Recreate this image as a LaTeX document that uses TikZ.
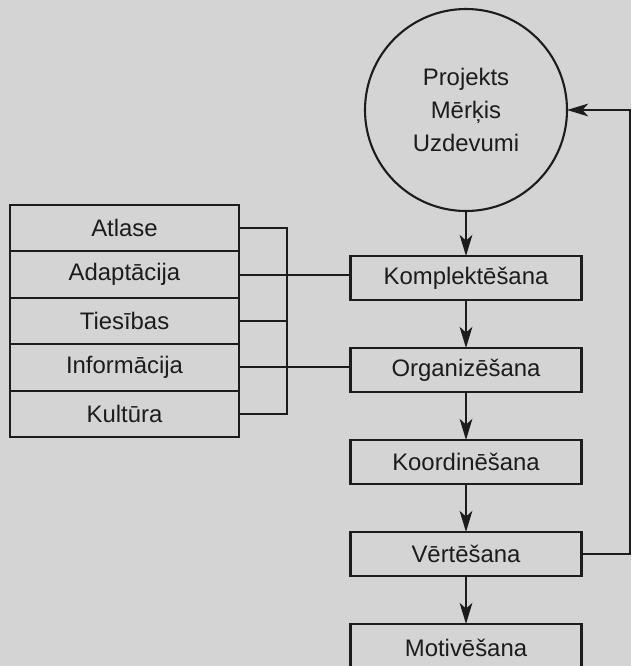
\documentclass[tikz,border=0pt]{standalone}
\usepackage{fontspec}
\setmainfont{Liberation Sans}
\usetikzlibrary{positioning}
\usetikzlibrary{arrows.meta}

\definecolor{paper}{RGB}{212,212,212}
\definecolor{ink}{RGB}{28,28,28}

\tikzset{
  stage/.style={draw=ink, text=ink, line width=1.5pt, outer sep=0pt, minimum width=5.775cm, minimum height=1.1cm, inner sep=0pt, font=\fontsize{17}{20}\selectfont},
  row/.style={draw=ink, text=ink, line width=1.5pt, outer sep=0pt, minimum width=5.725cm, minimum height=1.16cm, inner sep=0pt, font=\fontsize{17}{20}\selectfont},
  flow/.style={draw=ink, line width=1.5pt, -{Stealth[length=15pt, width=9pt, inset=4pt]}},
  link/.style={draw=ink, line width=1.5pt}
}

\begin{document}
\begin{tikzpicture}
% Page
\fill [paper] (0,0) rectangle (15.775,-16.65);
\useasboundingbox (0,0) rectangle (15.775,-16.65);
\clip (0,0) rectangle (15.775,-16.65);
% Project
\node [draw=ink, text=ink, line width=1.5pt, outer sep=0pt, circle, minimum size=5.05cm, align=center, font=\fontsize{17}{23.4}\selectfont] (projekts) at (11.65,-2.75) {Projekts\\Mērķis\\Uzdevumi};
% Stages
\node [stage, below=1.125cm of projekts] (komplekt) {Komplektēšana};
\node [stage, below=1.2cm of komplekt] (organiz) {Organizēšana};
\node [stage, below=1.2cm of organiz] (koordin) {Koordinēšana};
\node [stage, below=1.2cm of koordin] (vertes) {Vērtēšana};
\node [stage, below=1.2cm of vertes, minimum height=1.2cm] (motiv) {Motivēšana};
% Left box
\node [row] (atlase) at (3.1125,-5.705) {Atlase};
\node [row, below=0pt of atlase] (adapt) {Adaptācija};
\node [row, below=0pt of adapt] (tiesibas) {Tiesības};
\node [row, below=0pt of tiesibas] (inform) {Informācija};
\node [row, below=0pt of inform] (kultura) {Kultūra};
% Links
\coordinate (bus) at (7.175,0);
\draw [link] (atlase.east) -| (bus |- kultura.east) -- (kultura.east);
\draw [link] (tiesibas.east) -- (bus |- tiesibas.east);
\draw [link] (adapt.east) -- (adapt.east -| komplekt.west);
\draw [link] (inform.east) -- (inform.east -| organiz.west);
% Flow
\draw [flow] (projekts.south) -- (komplekt.north);
\draw [flow] (komplekt.south) -- (organiz.north);
\draw [flow] (organiz.south) -- (koordin.north);
\draw [flow] (koordin.south) -- (vertes.north);
\draw [flow] (vertes.south) -- (motiv.north);
% Feedback
\coordinate (edge) at (15.74,0);
\draw [flow] (vertes.east) -| (edge |- projekts.east) -- (projekts.east);
\end{tikzpicture}
\end{document}
